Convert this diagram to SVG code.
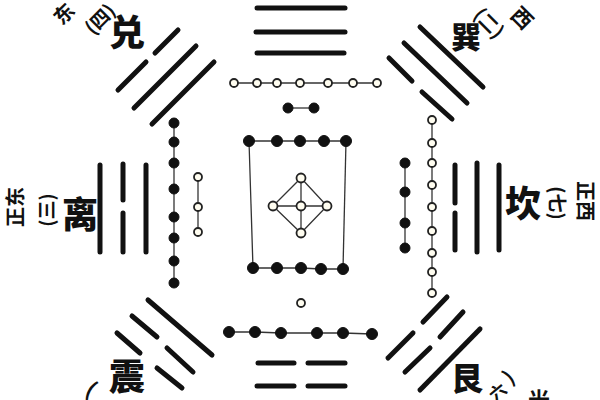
<svg xmlns="http://www.w3.org/2000/svg" width="600" height="400" viewBox="0 0 600 400">
<style>
.yao{stroke:#111;stroke-width:5;stroke-linecap:round;fill:none}
.con{stroke:#333;stroke-width:1.3;fill:none}
.blk{fill:#111;stroke:#111;stroke-width:1}
.wht{fill:#fffdf0;stroke:#222;stroke-width:1.8}
.name{font-family:"Noto Sans CJK SC","Noto Sans CJK TC",sans-serif;font-weight:900;fill:#111;text-anchor:middle;dominant-baseline:central}
.sub{font-family:"Noto Sans CJK SC","Noto Sans CJK TC",sans-serif;font-weight:700;fill:#111;text-anchor:middle;dominant-baseline:central}
</style>
<rect width="600" height="400" fill="#ffffff"/>

<g id="trigram-top">
<line class="yao" x1="257" y1="8" x2="345" y2="8"/>
<line class="yao" x1="256" y1="32" x2="345" y2="32"/>
<line class="yao" x1="257" y1="53" x2="344" y2="53"/>
</g>
<g id="trigram-bottom">
<line class="yao" x1="258" y1="363" x2="294" y2="363"/>
<line class="yao" x1="308" y1="363" x2="345" y2="363"/>
<line class="yao" x1="257" y1="386" x2="294" y2="386"/>
<line class="yao" x1="308" y1="386" x2="345" y2="386"/>
</g>
<g id="trigram-li">
<line class="yao" x1="100" y1="165" x2="100" y2="252"/>
<line class="yao" x1="123" y1="164" x2="123" y2="200"/>
<line class="yao" x1="123" y1="213" x2="123" y2="252"/>
<line class="yao" x1="146" y1="165" x2="146" y2="252"/>
<text class="name" x="80" y="212" font-size="36">离</text>
<text class="sub" transform="translate(45,210) rotate(-90)" font-size="19">(三)</text>
<text class="sub" transform="translate(14,207) rotate(-90)" font-size="20">正东</text>
</g>
<g id="trigram-kan">
<line class="yao" x1="455" y1="165" x2="455" y2="203"/>
<line class="yao" x1="455" y1="213" x2="455" y2="250"/>
<line class="yao" x1="477" y1="163" x2="477" y2="252"/>
<line class="yao" x1="499" y1="165" x2="499" y2="250"/>
<text class="name" x="523" y="201" font-size="36">坎</text>
<text class="sub" transform="translate(558,203) rotate(90)" font-size="19">(七)</text>
<text class="sub" transform="translate(586,201) rotate(90)" font-size="20">正西</text>
</g>
<g id="trigram-dui">
<line class="yao" x1="118" y1="90" x2="146" y2="62"/>
<line class="yao" x1="155" y1="53" x2="178" y2="30"/>
<line class="yao" x1="134" y1="108" x2="196" y2="46"/>
<line class="yao" x1="152" y1="124" x2="214" y2="62"/>
<text class="name" x="127" y="30" font-size="36">兑</text>
<text class="sub" transform="translate(99,18) rotate(-45)" font-size="19">(四)</text>
<text class="sub" transform="translate(63,13) rotate(-45)" font-size="20">东</text>
</g>
<g id="trigram-xun">
<line class="yao" x1="420" y1="27" x2="483" y2="87"/>
<line class="yao" x1="404" y1="43" x2="467" y2="103"/>
<line class="yao" x1="389" y1="58" x2="412" y2="81"/>
<line class="yao" x1="422" y1="92" x2="452" y2="119"/>
<text class="name" x="466" y="35" font-size="30">巽</text>
<text class="sub" transform="translate(490,22) rotate(45)" font-size="19">(二)</text>
<text class="sub" transform="translate(523,17) rotate(45)" font-size="21">西</text>
</g>
<g id="trigram-zhen">
<line class="yao" x1="148" y1="300" x2="212" y2="355"/>
<line class="yao" x1="132" y1="316" x2="157" y2="337"/>
<line class="yao" x1="167" y1="348" x2="193" y2="372"/>
<line class="yao" x1="117" y1="333" x2="140" y2="353"/>
<line class="yao" x1="157" y1="368" x2="182" y2="388"/>
<text class="name" x="127" y="374" font-size="36">震</text>
<text class="sub" transform="translate(92,388) rotate(30)" font-size="22">(</text>
</g>
<g id="trigram-gen">
<line class="yao" x1="388" y1="358" x2="413" y2="333"/>
<line class="yao" x1="423" y1="322" x2="447" y2="297"/>
<line class="yao" x1="405" y1="372" x2="430" y2="348"/>
<line class="yao" x1="440" y1="337" x2="463" y2="312"/>
<line class="yao" x1="420" y1="390" x2="480" y2="329"/>
<text class="name" x="467" y="376" font-size="32">艮</text>
<text class="sub" transform="translate(508,376) rotate(-40)" font-size="20">)</text>
<text class="sub" transform="translate(497,391) rotate(-40)" font-size="17">六</text>
<text class="sub" x="539" y="398" font-size="22">光</text>
</g>

<g id="connectors">
<line class="con" x1="234" y1="83" x2="377" y2="83"/>
<line class="con" x1="288" y1="108" x2="314" y2="108"/>
<polyline class="con" points="249,141 277,141 300,141 324,141 346,141"/>
<line class="con" x1="249" y1="141" x2="253" y2="268"/>
<line class="con" x1="346" y1="141" x2="343" y2="269"/>
<polyline class="con" points="253,268 277,268 301,268 321,269 343,269"/>
<polygon class="con" points="301,178 327,206 301,233 273,206"/>
<line class="con" x1="301" y1="178" x2="301" y2="233"/>
<line class="con" x1="273" y1="206" x2="327" y2="206"/>
<polyline class="con" points="229,332 255,332 281,333 317,333 343,333 372,334"/>
<line class="con" x1="174" y1="123" x2="174" y2="283"/>
<line class="con" x1="198" y1="177" x2="198" y2="232"/>
<line class="con" x1="405" y1="163" x2="405" y2="248"/>
<line class="con" x1="432" y1="120" x2="432" y2="293"/>
</g>

<g id="node-top-white7">
<circle class="wht" cx="234" cy="83" r="4"/><circle class="wht" cx="257" cy="83" r="4"/><circle class="wht" cx="277" cy="83" r="4"/><circle class="wht" cx="300" cy="83" r="4"/><circle class="wht" cx="328" cy="83" r="4"/><circle class="wht" cx="353" cy="83" r="4"/><circle class="wht" cx="377" cy="83" r="4"/>
</g>
<g id="node-top-black2">
<circle class="blk" cx="288" cy="108" r="5"/><circle class="blk" cx="314" cy="108" r="5"/>
</g>
<g id="node-top-black5">
<circle class="blk" cx="249" cy="141" r="5.5"/><circle class="blk" cx="277" cy="141" r="5.5"/><circle class="blk" cx="300" cy="141" r="5.5"/><circle class="blk" cx="324" cy="141" r="5.5"/><circle class="blk" cx="346" cy="141" r="5.5"/>
</g>
<g id="node-center-white5">
<circle class="wht" cx="301" cy="178" r="4.5"/><circle class="wht" cx="273" cy="206" r="4.5"/><circle class="wht" cx="301" cy="206" r="4.5"/><circle class="wht" cx="327" cy="206" r="4.5"/><circle class="wht" cx="301" cy="233" r="4.5"/>
</g>
<g id="node-bottom-black5">
<circle class="blk" cx="253" cy="268" r="5.5"/><circle class="blk" cx="277" cy="268" r="5.5"/><circle class="blk" cx="301" cy="268" r="5.5"/><circle class="blk" cx="321" cy="269" r="5.5"/><circle class="blk" cx="343" cy="269" r="5.5"/>
</g>
<g id="node-bottom-white1">
<circle class="wht" cx="301" cy="303" r="4"/>
</g>
<g id="node-bottom-black6">
<circle class="blk" cx="229" cy="332" r="5.5"/><circle class="blk" cx="255" cy="332" r="5.5"/><circle class="blk" cx="281" cy="333" r="5.5"/><circle class="blk" cx="317" cy="333" r="5.5"/><circle class="blk" cx="343" cy="333" r="5.5"/><circle class="blk" cx="372" cy="334" r="5.5"/>
</g>
<g id="node-left-black8">
<circle class="blk" cx="174" cy="123" r="5"/><circle class="blk" cx="174" cy="142" r="5"/><circle class="blk" cx="174" cy="163" r="5"/><circle class="blk" cx="174" cy="189" r="5"/><circle class="blk" cx="174" cy="217" r="5"/><circle class="blk" cx="174" cy="238" r="5"/><circle class="blk" cx="174" cy="261" r="5"/><circle class="blk" cx="174" cy="283" r="5"/>
</g>
<g id="node-left-white3">
<circle class="wht" cx="198" cy="177" r="4"/><circle class="wht" cx="198" cy="207" r="4"/><circle class="wht" cx="198" cy="232" r="4"/>
</g>
<g id="node-right-black4">
<circle class="blk" cx="405" cy="163" r="5"/><circle class="blk" cx="405" cy="192" r="5"/><circle class="blk" cx="405" cy="223" r="5"/><circle class="blk" cx="405" cy="248" r="5"/>
</g>
<g id="node-right-white9">
<circle class="wht" cx="432" cy="120" r="4"/><circle class="wht" cx="432" cy="143" r="4"/><circle class="wht" cx="432" cy="163" r="4"/><circle class="wht" cx="432" cy="185" r="4"/><circle class="wht" cx="432" cy="207" r="4"/><circle class="wht" cx="432" cy="231" r="4"/><circle class="wht" cx="432" cy="253" r="4"/><circle class="wht" cx="432" cy="272" r="4"/><circle class="wht" cx="432" cy="293" r="4"/>
</g>
</svg>
